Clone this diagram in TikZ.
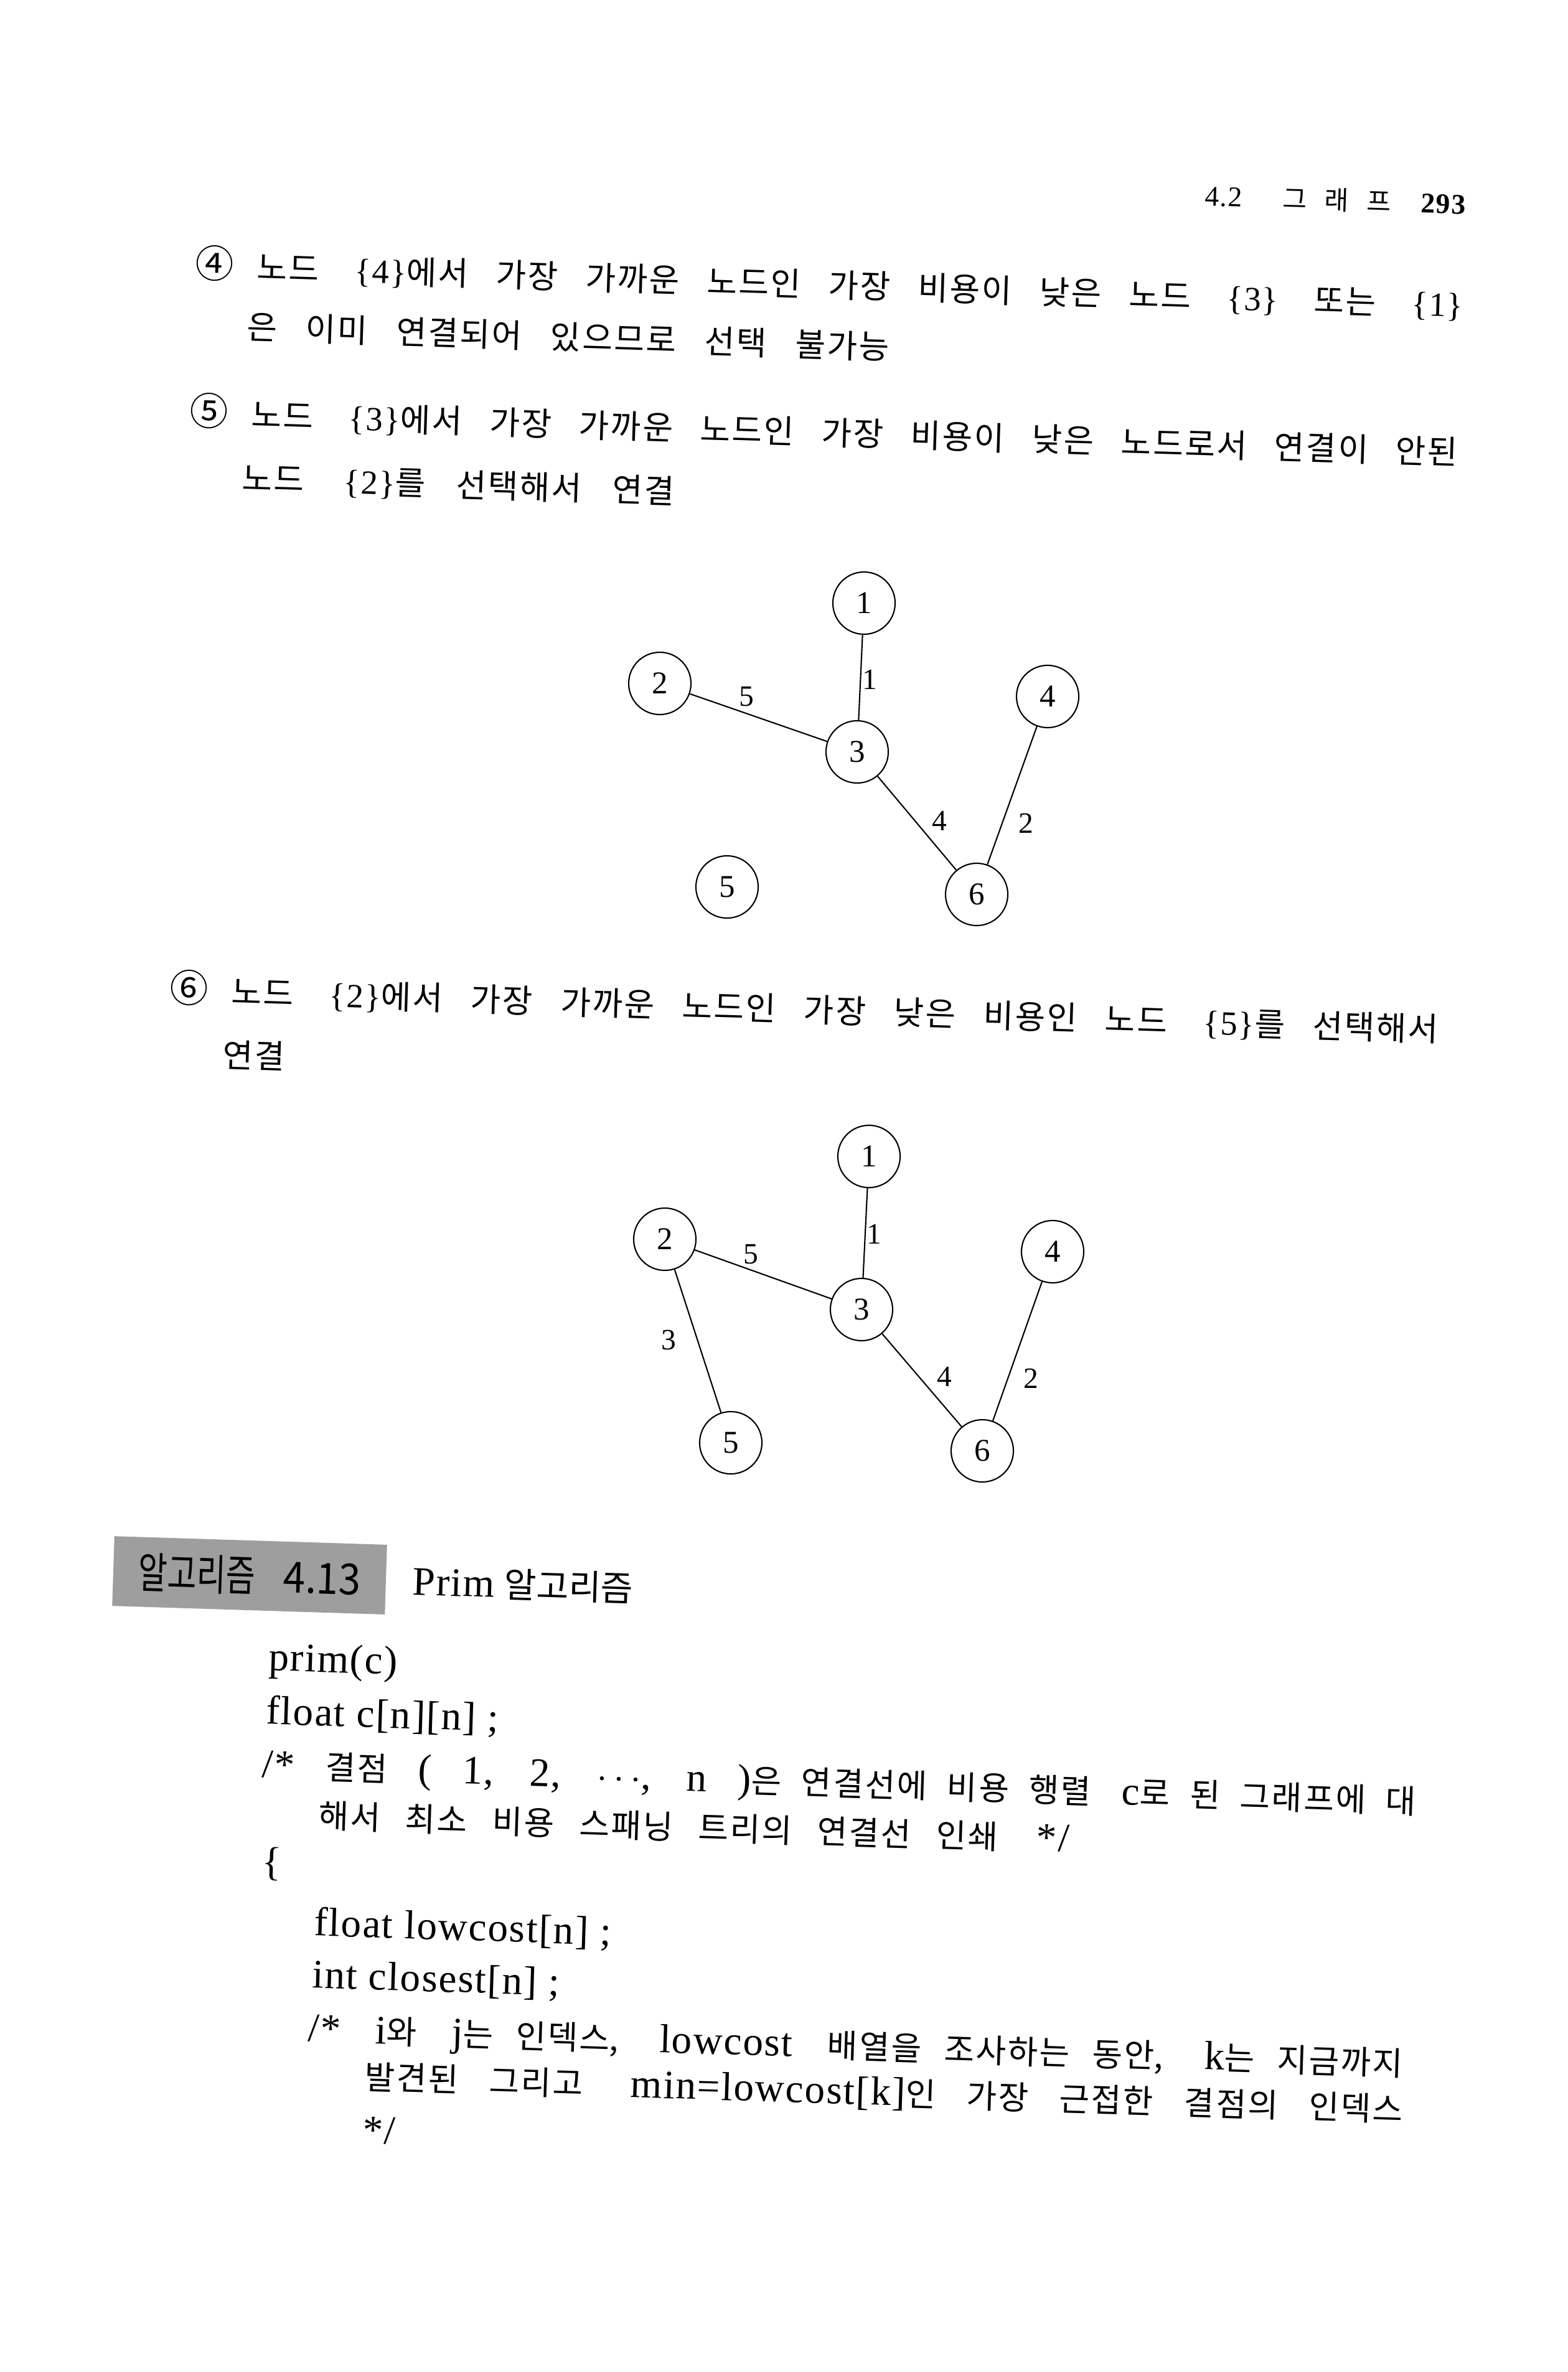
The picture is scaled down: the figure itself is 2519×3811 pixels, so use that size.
\documentclass[tikz,border=0pt]{standalone}
\usepackage{fontspec}
\setmainfont{Liberation Serif}[LetterSpace=3]
\newfontfamily\kr{Noto Sans CJK KR}
\usepackage{tikz}
% wider pitch between Hangul syllables
\newXeTeXintercharclass\hanclass
\count255="AC00
\loop\ifnum\count255<"D7A4 \XeTeXcharclass\count255=\hanclass \advance\count255 by 1 \repeat
\XeTeXinterchartoks\hanclass\hanclass={\kern0.05em}
\XeTeXinterchartokenstate=1
\newcommand{\K}[1]{{\kr\fontsize{15}{18}\selectfont #1}}
\newcommand{\C}[1]{{\kr\fontsize{17.5}{18}\selectfont #1}\hspace{0.38cm}}
\newcommand{\Kt}[2]{{\XeTeXinterchartokenstate=0\relax\kr\fontsize{#1}{#1}\selectfont #2}}

\begin{document}
\begin{tikzpicture}[x=0.01cm, y=-0.01cm,
  para/.style={anchor=west, inner sep=0pt, rotate=-1.8, font=\fontsize{15.5}{18}\selectfont},
  codeln/.style={para, font=\fontsize{18.5}{22}\selectfont},
  vtx/.style={draw, circle, line width=0.6pt, minimum size=1cm, inner sep=0pt, font=\fontsize{14.5}{17}\selectfont},
  wt/.style={inner sep=0pt, font=\fontsize{13.5}{16}\selectfont},
  link/.style={line width=0.6pt},
  algbox/.style={fill=black!38, minimum width=4.38cm, minimum height=1.12cm, inner sep=0pt, rotate=-1.8}]
\useasboundingbox (0,0) rectangle (2519,3811);

% Running head
\node[para, font=\fontsize{13}{15}\selectfont] (head) at (1935,315)
  {\makebox[4.2cm]{4.2\hskip 0pt plus 2.3fill{\kr\fontsize{12}{13}\selectfont 그}\hskip 0pt plus 1fill{\kr\fontsize{12}{13}\selectfont 래}\hskip 0pt plus 1fill{\kr\fontsize{12}{13}\selectfont 프}\hskip 0pt plus 1.7fill\textbf{293}}};

% Steps 4 and 5
\node[para] (s4a) at (313,423) {\makebox[20.37cm][s]{\C{④}\K{노드} \{4\}\K{에서 가장 가까운 노드인 가장 비용이 낮은 노드} \{3\} \K{또는} \{1\}}};
\node[para] (s4b) at (396,525) {\makebox[10.32cm][s]{\K{은 이미 연결되어 있으므로 선택 불가능}}};
\node[para] (s5a) at (304,660) {\makebox[20.37cm][s]{\C{⑤}\K{노드} \{3\}\K{에서 가장 가까운 노드인 가장 비용이 낮은 노드로서 연결이 안된}}};
\node[para] (s5b) at (388,769) {\makebox[6.95cm][s]{\K{노드} \{2\}\K{를 선택해서 연결}}};

% Tree after step 5
\foreach \n/\x/\y in {1/1388/969, 2/1060/1098, 3/1377/1208, 4/1683/1119, 5/1168/1425, 6/1569/1437}
  \node[vtx] (p\n) at (\x,\y) {\n};
\foreach \a/\b in {1/3, 2/3, 3/6, 4/6}
  \draw[link] (p\a) -- (p\b);
\foreach \n/\x/\y/\w in {13/1397/1092/1, 23/1199/1119/5, 36/1509/1319/4, 46/1648/1323/2}
  \node[wt] (pw\n) at (\x,\y) {\w};

% Step 6
\node[para] (s6a) at (272,1587) {\makebox[20.38cm][s]{\C{⑥}\K{노드} \{2\}\K{에서 가장 가까운 노드인 가장 낮은 비용인 노드} \{5\}\K{를 선택해서}}};
\node[para] (s6b) at (357,1694) {\K{연결}};

% Tree after step 6
\foreach \n/\x/\y in {1/1396/1858, 2/1068/1991, 3/1384/2104, 4/1691/2011, 5/1174/2318, 6/1578/2331}
  \node[vtx] (q\n) at (\x,\y) {\n};
\foreach \a/\b in {1/3, 2/3, 2/5, 3/6, 4/6}
  \draw[link] (q\a) -- (q\b);
\foreach \n/\x/\y/\w in {13/1404/1983/1, 23/1206/2015/5, 25/1074/2153/3, 36/1517/2212/4, 46/1656/2215/2}
  \node[wt] (qw\n) at (\x,\y) {\w};

% Algorithm 4.13
\node[algbox] (alg) at (401,2531) {\scalebox{1}[1.35]{\makebox[3.57cm][s]{\Kt{14.5pt}{알고리즘} \Kt{14.5pt}{\scalebox{1.25}[1]{4.13}}}}};
\node[para] (title) at (662,2541) {{\fontsize{18.5}{22}\selectfont Prim} \Kt{16pt}{알고리즘}};

\node[codeln] (c1) at (431,2668) {prim(c)};
\node[codeln] (c2) at (427,2752) {float c[n][n] ;};
\node[codeln] (c3) at (420,2840) {\makebox[18.54cm][s]{/* \K{결점} ( 1, 2, $\cdots$, n )\K{은 연결선에 비용 행렬} c\K{로 된 그래프에 대}}};
\node[codeln] (c4) at (511,2917) {\makebox[12.06cm][s]{\K{해서 최소 비용 스패닝 트리의 연결선 인쇄} */}};
\node[codeln] (c5) at (420,2994) {\{};
\node[codeln] (c6) at (504,3092) {float lowcost[n] ;};
\node[codeln] (c7) at (501,3176) {int closest[n] ;};
\node[codeln] (c8) at (494,3264) {\makebox[17.59cm][s]{/* i\K{와} j\K{는 인덱스,} lowcost \K{배열을 조사하는 동안,} k\K{는 지금까지}}};
\node[codeln] (c9) at (585,3338) {\makebox[16.68cm][s]{\K{발견된 그리고} min=lowcost[k]\K{인 가장 근접한 결점의 인덱스}}};
\node[codeln] (c10) at (582,3422) {*/};
\end{tikzpicture}
\end{document}
